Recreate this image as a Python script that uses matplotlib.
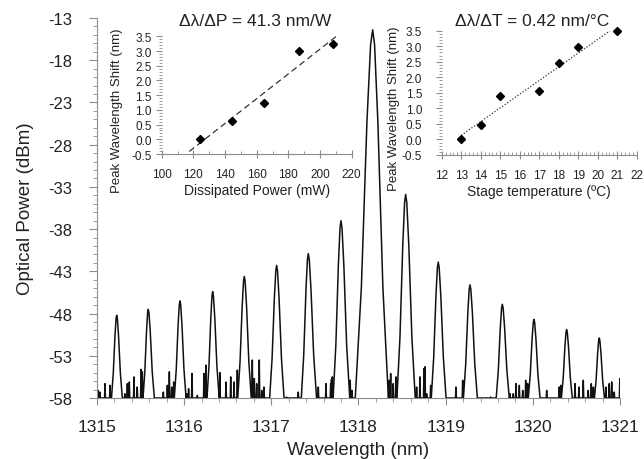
import numpy as np
import matplotlib
matplotlib.use("Agg")
import matplotlib.pyplot as plt
from matplotlib.ticker import MultipleLocator

plt.rcParams['font.family'] = ['Liberation Sans', 'DejaVu Sans']
plt.rcParams['axes.unicode_minus'] = False

# spectrum: peak centre (nm), peak level (dBm), base half-widths (nm)
peak_wl = [1315.226, 1315.588, 1315.952, 1316.327, 1316.690, 1317.061, 1317.424, 1317.799,
           1318.163, 1318.541, 1318.915, 1319.279, 1319.650, 1320.013, 1320.388, 1320.762]
peak_db = [-48.2, -47.5, -46.5, -45.4, -43.6, -42.3, -40.9, -37.0,
           -14.4, -33.9, -41.9, -44.6, -46.9, -48.7, -49.9, -50.9]
peak_left = [0.060, 0.060, 0.065, 0.065, 0.075, 0.080, 0.080, 0.090,
             0.200, 0.100, 0.080, 0.075, 0.070, 0.065, 0.060, 0.055]
peak_right = [0.065, 0.070, 0.070, 0.075, 0.080, 0.085, 0.095, 0.100,
              0.180, 0.110, 0.090, 0.085, 0.080, 0.070, 0.065, 0.060]

# noise spikes above the floor
spike_wl = [1315.015, 1315.034, 1315.092, 1315.149,
            1315.321, 1315.348, 1315.371, 1315.424, 1315.462, 1315.505, 1315.520,
            1315.761, 1315.807, 1315.830, 1315.857, 1315.880,
            1316.030, 1316.051, 1316.090, 1316.151, 1316.227, 1316.250,
            1316.410, 1316.480, 1316.534, 1316.572, 1316.610,
            1316.782, 1316.805, 1316.832, 1316.862, 1316.890, 1316.916,
            1317.175, 1317.309,
            1317.539, 1317.627, 1317.681, 1317.690, 1317.700,
            1317.905, 1317.925,
            1318.350, 1318.369, 1318.399, 1318.430,
            1318.667, 1318.705, 1318.751, 1318.763, 1318.782, 1318.828,
            1319.118, 1319.195, 1319.516,
            1319.738, 1319.776, 1319.807, 1319.845, 1319.884, 1319.918, 1319.940,
            1320.159, 1320.303, 1320.320,
            1320.453, 1320.484, 1320.529, 1320.579, 1320.636, 1320.671, 1320.695,
            1320.839, 1320.877, 1320.905, 1320.934, 1320.998]
spike_db = [-57.1, -57.3, -56.3, -56.5,
            -57.5, -56.3, -56.1, -55.5, -56.7, -54.6, -54.9,
            -57.3, -56.5, -54.9, -56.7, -56.1,
            -57.5, -56.9, -55.1, -57.7, -55.1, -54.1,
            -55.0, -56.1, -55.5, -56.1, -54.7,
            -53.5, -55.7, -56.3, -53.5, -57.1, -56.7,
            -57.9, -57.3,
            -56.7, -56.3, -56.3, -55.8, -55.5,
            -55.9, -57.1,
            -55.9, -55.1, -56.3, -55.5,
            -56.7, -55.5, -54.5, -54.3, -57.5, -56.5,
            -56.7, -55.9, -57.9,
            -57.5, -57.5, -56.3, -56.5, -57.1, -55.9, -56.3,
            -57.1, -56.7, -56.5,
            -55.9, -56.3, -56.7, -55.9, -57.1, -56.3, -56.7,
            -56.7, -56.3, -56.1, -57.3, -55.7]

# insets
power_mw = [124.2, 144.2, 164.8, 186.7, 208.2]
shift_p = [0.00, 0.63, 1.22, 3.00, 3.24]
power_fit = [117.4, 210.5]
temp_c = [13, 14, 15, 17, 18, 19, 21]
shift_t = [0.00, 0.46, 1.41, 1.57, 2.47, 2.99, 3.50]
temp_fit = [13, 21]

floor = -58
wl_min, wl_max = 1315, 1321

# peak outline: (fraction of half-width, fraction of height)
shape = [(-1, 0), (-0.65, 0.3), (-0.33, 0.75), (-0.12, 0.96), (0, 1),
         (0.12, 0.96), (0.33, 0.75), (0.65, 0.3), (1, 0)]

verts = []
for c, top, L, R in zip(peak_wl, peak_db, peak_left, peak_right):
    for fx, fy in shape:
        w = L if fx < 0 else R
        verts.append((c + fx * w, floor + fy * (top - floor)))
for s, d in zip(spike_wl, spike_db):
    inside = any(c - L <= s <= c + R for c, L, R in zip(peak_wl, peak_left, peak_right))
    if inside:
        continue
    verts += [(s - 0.005, floor), (s, d), (s + 0.005, floor)]
verts = [(wl_min, floor)] + sorted(verts) + [(wl_max, floor)]
x, y = zip(*verts)

txt = '#222222'
gray = '#8c8c8c'

fig = plt.figure(figsize=(6.44, 4.6), dpi=100)
ax = fig.add_axes([0.1506, 0.1326, 0.8121, 0.8261])
ax.plot(x, y, color='#111111', lw=1.1)
ax.set_xlim(wl_min, wl_max)
ax.set_ylim(-58, -13)
ax.set_yticks(np.arange(-58, -12, 5))
ax.yaxis.set_minor_locator(MultipleLocator(1))
ax.xaxis.set_major_locator(MultipleLocator(1))
ax.xaxis.set_minor_locator(MultipleLocator(0.2))
for s in ['top', 'right']:
    ax.spines[s].set_visible(False)
for s in ['left', 'bottom']:
    ax.spines[s].set_color(gray)
    ax.spines[s].set_linewidth(0.8)
ax.tick_params(axis='y', which='major', length=6, color=gray, labelsize=12, pad=12, labelcolor=txt)
ax.tick_params(axis='y', which='minor', length=3, color=gray)
ax.tick_params(axis='x', which='major', length=5, color=gray, labelsize=12.5, pad=10, labelcolor=txt)
ax.tick_params(axis='x', which='minor', length=3, color=gray)
ax.set_xlabel('Wavelength (nm)', fontsize=13.5, color=txt, labelpad=5)
ax.set_ylabel('Optical Power (dBm)', fontsize=13.5, color=txt)
ax.yaxis.set_label_coords(-0.12, 0.5)


def style_inset(a):
    a.set_facecolor('none')
    for s in ['top', 'right', 'left']:
        a.spines[s].set_visible(False)
    a.spines['bottom'].set_color(gray)
    a.spines['bottom'].set_linewidth(0.8)
    a.set_ylim(-0.5, 3.5)
    a.yaxis.set_major_locator(MultipleLocator(0.5))
    a.yaxis.set_minor_locator(MultipleLocator(0.1))
    a.tick_params(which='major', color=gray, labelsize=8.5, labelcolor=txt)
    a.tick_params(axis='x', which='major', direction='inout', length=6, pad=7)
    a.tick_params(axis='x', which='minor', direction='in', length=2.5, color=gray)
    a.tick_params(axis='y', which='major', length=4)
    a.tick_params(axis='y', which='minor', length=2, color=gray)


# inset 1: dissipated power
a1 = fig.add_axes([0.2511, 0.6630, 0.2950, 0.2559])
style_inset(a1)
k1, b1 = np.polyfit(power_mw, shift_p, 1)
a1.plot(power_fit, np.polyval([k1, b1], power_fit), color='#333333', lw=0.9, ls=(0, (5, 3)))
a1.plot(power_mw, shift_p, 'D', color='black', ms=4.5, clip_on=False)
a1.set_xlim(100, 220)
a1.xaxis.set_major_locator(MultipleLocator(20))
a1.xaxis.set_minor_locator(MultipleLocator(10))
a1.tick_params(axis='y', which='major', pad=3)
a1.set_xlabel('Dissipated Power (mW)', fontsize=10, color=txt, labelpad=2)
a1.set_ylabel('Peak Wavelength Shift (nm)', fontsize=9.5, color=txt)
a1.yaxis.set_label_coords(-0.205, 0.38)
fig.text(255 / 644, 1 - 21.7 / 460, '\u0394\u03bb/\u0394P = 41.3 nm/W', fontsize=12.5,
         color=txt, ha='center', va='center')

# inset 2: stage temperature
a2 = fig.add_axes([0.6859, 0.6609, 0.3028, 0.2702])
style_inset(a2)
k2, b2 = np.polyfit(temp_c, shift_t, 1)
a2.plot(temp_fit, np.polyval([k2, b2], temp_fit), color='#333333', lw=0.9, ls=(0, (1, 1.5)))
a2.plot(temp_c, shift_t, 'D', color='black', ms=4.5, clip_on=False)
a2.set_xlim(12, 22)
a2.xaxis.set_major_locator(MultipleLocator(1))
a2.xaxis.set_minor_locator(MultipleLocator(0.2))
a2.tick_params(axis='y', which='major', pad=10)
a2.set_xlabel('Stage temperature (\u00baC)', fontsize=10, color=txt, labelpad=2)
a2.set_ylabel('Peak Wavelength Shift (nm)', fontsize=9.5, color=txt)
a2.yaxis.set_label_coords(-0.215, 0.38)
fig.text(531.7 / 644, 1 - 21.7 / 460, '\u0394\u03bb/\u0394T = 0.42 nm/\u00b0C', fontsize=12.5,
         color=txt, ha='center', va='center')

fig.savefig('out.png', dpi=100)
